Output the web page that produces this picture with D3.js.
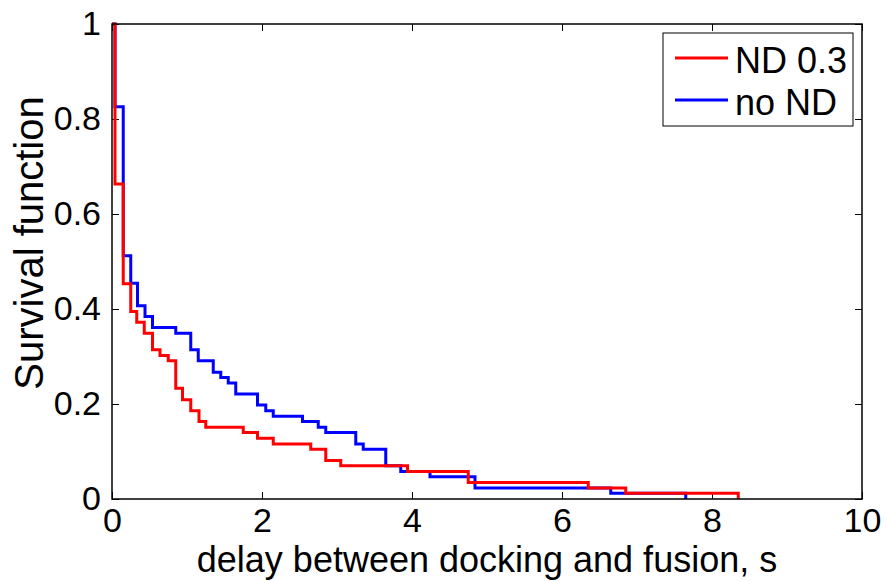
<!DOCTYPE html>
<html>
<head>
<meta charset="utf-8">
<script src="https://cdn.jsdelivr.net/npm/d3@7"></script>
<style>
    body { margin: 0; background: #fff; }
    text { font-family: "Liberation Sans", Arial, sans-serif; fill: #000; }
</style>
</head>
<body>
<div id="chart"></div>
<script>
// survival curves, step times (s) and survival values after each step
const redTimes = [0, 0.04, 0.15, 0.25, 0.33, 0.43, 0.54, 0.64, 0.75, 0.85, 0.94, 1.05, 1.16, 1.25, 1.75, 1.94, 2.15, 2.65, 2.85, 3.05, 3.94, 4.75, 6.35, 6.85, 8.35];
const redSurv = [1, 0.663, 0.453, 0.395, 0.372, 0.349, 0.314, 0.302, 0.291, 0.233, 0.209, 0.186, 0.163, 0.151, 0.140, 0.128, 0.116, 0.105, 0.081, 0.070, 0.058, 0.035, 0.023, 0.012, 0];

const blueTimes = [0, 0.04, 0.15, 0.25, 0.34, 0.44, 0.54, 0.85, 1.05, 1.15, 1.35, 1.45, 1.55, 1.65, 1.94, 2.05, 2.15, 2.54, 2.75, 2.85, 3.25, 3.35, 3.65, 3.85, 4.24, 4.84, 6.65, 7.65];
const blueSurv = [1, 0.826, 0.512, 0.454, 0.407, 0.384, 0.361, 0.349, 0.314, 0.291, 0.267, 0.256, 0.244, 0.221, 0.198, 0.186, 0.174, 0.163, 0.151, 0.140, 0.116, 0.105, 0.070, 0.058, 0.047, 0.023, 0.012, 0];

const seriesNames = ["ND 0.3", "no ND"];
const seriesColors = ["#ff0000", "#0000ff"];
const xTicks = [0, 2, 4, 6, 8, 10];
const yTicks = [0, 0.2, 0.4, 0.6, 0.8, 1];
const xTickLabels = ["0", "2", "4", "6", "8", "10"];
const yTickLabels = ["0", "0.2", "0.4", "0.6", "0.8", "1"];

const width = 887, height = 581;
const margin = { top: 24, left: 112, right: 25, bottom: 82 };
const plotW = width - margin.left - margin.right;
const plotH = height - margin.top - margin.bottom;

const svg = d3.select("#chart").append("svg")
    .attr("width", width)
    .attr("height", height);

const focus = svg.append("g")
    .attr("transform", "translate(" + margin.left + "," + margin.top + ")");

let x = d3.scaleLinear().domain([0, 10]).range([0, plotW]);
let y = d3.scaleLinear().domain([0, 1]).range([plotH, 0]);

// ticks, inward on all four sides like the matlab box
const tickLen = 7;
focus.append("g")
    .attr("transform", "translate(0," + plotH + ")")
    .call(d3.axisBottom(x).tickValues(xTicks).tickSizeInner(-tickLen).tickSizeOuter(0).tickPadding(9).tickFormat((d, i) => xTickLabels[i]))
    .call(g => g.select(".domain").remove())
    .selectAll("text")
    .attr("font-size", "34px");
focus.append("g")
    .call(d3.axisTop(x).tickValues(xTicks).tickSizeInner(-tickLen).tickSizeOuter(0).tickFormat(""))
    .call(g => g.select(".domain").remove());
focus.append("g")
    .call(d3.axisLeft(y).tickValues(yTicks).tickSizeInner(-tickLen).tickSizeOuter(0).tickPadding(11).tickFormat((d, i) => yTickLabels[i]))
    .call(g => g.select(".domain").remove())
    .selectAll("text")
    .attr("font-size", "34px");
focus.append("g")
    .attr("transform", "translate(" + plotW + ",0)")
    .call(d3.axisRight(y).tickValues(yTicks).tickSizeInner(-tickLen).tickSizeOuter(0).tickFormat(""))
    .call(g => g.select(".domain").remove());

svg.selectAll(".tick line").attr("stroke", "#000");
svg.selectAll(".tick text").attr("font-family", "Liberation Sans, Arial, sans-serif");

// curves
const line = d3.line()
    .x(d => x(d[0]))
    .y(d => y(d[1]))
    .curve(d3.curveStepAfter);

const curves = [
    d3.zip(redTimes, redSurv),
    d3.zip(blueTimes, blueSurv)
];

// blue under red
[1, 0].forEach(i => {
    focus.append("path")
        .datum(curves[i])
        .attr("fill", "none")
        .attr("stroke", seriesColors[i])
        .attr("stroke-width", 3)
        .attr("d", line);
});

// box
focus.append("rect")
    .attr("width", plotW)
    .attr("height", plotH)
    .attr("fill", "none")
    .attr("stroke", "#000")
    .attr("stroke-width", 1.5);

// axis labels
svg.append("text")
    .attr("x", margin.left + plotW / 2)
    .attr("y", 572)
    .attr("text-anchor", "middle")
    .attr("font-size", "36px")
    .text("delay between docking and fusion, s");

svg.append("text")
    .attr("transform", "translate(43,243) rotate(-90)")
    .attr("text-anchor", "middle")
    .attr("font-size", "40px")
    .text("Survival function");

// legend
const legend = svg.append("g")
    .attr("transform", "translate(663,33)");
legend.append("rect")
    .attr("width", 190)
    .attr("height", 93)
    .attr("fill", "#fff")
    .attr("stroke", "#000")
    .attr("stroke-width", 1);
seriesNames.forEach((name, i) => {
    let ly = 25 + i * 42;
    legend.append("line")
        .attr("x1", 12).attr("x2", 65)
        .attr("y1", ly).attr("y2", ly)
        .attr("stroke", seriesColors[i])
        .attr("stroke-width", 3);
    legend.append("text")
        .attr("x", 72)
        .attr("y", ly + 15)
        .attr("font-size", "36px")
        .text(name);
});
</script>
</body>
</html>
